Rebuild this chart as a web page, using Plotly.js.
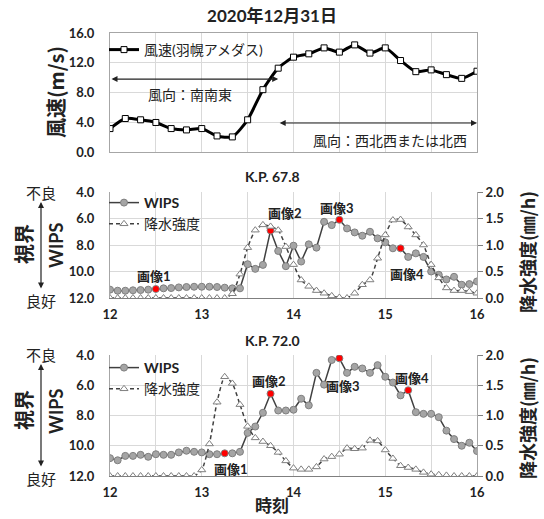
<!DOCTYPE html>
<html>
<head>
<meta charset="utf-8">
<script src="https://cdn.plot.ly/plotly-3.0.1.min.js"></script>
<style>html,body{margin:0;padding:0;background:#fff;}#chart{width:544px;height:519px;}</style>
</head>
<body>
<div id="chart"></div>
<script>
// ---------- data ----------
const chartDate = '2020-12-31';
const mainTitle = '2020年12月31日';

// wind speed, Haboro AMeDAS, 10-minute
const windTimes = ['12:00','12:10','12:20','12:30','12:40','12:50','13:00','13:10','13:20','13:30','13:40','13:50',
  '14:00','14:10','14:20','14:30','14:40','14:50','15:00','15:10','15:20','15:30','15:40','15:50','16:00'];
const windSpeed = [3.15,4.5,4.33,3.97,3.15,2.97,3.15,2.16,2.03,4.33,8.38,11.27,
  12.75,13.2,14.0,13.43,14.4,13.3,14.0,12.3,10.8,11.04,10.4,9.9,10.86];
const windName = '風速(羽幌アメダス)';
const windDirLabels = ['風向：南南東', '風向：西北西または北西'];
const windDirStart = ['12:00', '13:50'];
const windDirEnd = ['13:50', '16:00'];

// 5-minute series
const times5 = ['12:00','12:05','12:10','12:15','12:20','12:25','12:30','12:35','12:40','12:45','12:50','12:55',
  '13:00','13:05','13:10','13:15','13:20','13:25','13:30','13:35','13:40','13:45','13:50','13:55',
  '14:00','14:05','14:10','14:15','14:20','14:25','14:30','14:35','14:40','14:45','14:50','14:55',
  '15:00','15:05','15:10','15:15','15:20','15:25','15:30','15:35','15:40','15:45','15:50','15:55','16:00'];

const kp678Title = 'K.P. 67.8';
const kp678Wips = [11.37,11.45,11.45,11.42,11.4,11.37,11.32,11.27,11.25,11.2,11.17,11.15,
  11.15,11.15,11.17,11.22,11.27,11.27,9.45,9.8,9.5,6.9,8.45,9.6,
  8.05,9.25,7.95,8.2,6.25,6.5,6.1,6.75,7.05,7.3,7.0,7.5,
  7.8,8.25,8.25,8.9,8.63,8.9,10.0,10.25,10.6,10.4,11.0,10.95,10.75];
const kp678Precip = [0,0,0,0,0,0,0,0,0,0,0,0,
  0,0,0,0,0.08,0.45,0.95,1.28,1.38,1.35,1.28,0.97,
  0.63,0.34,0.22,0.14,0.09,0.04,0.01,0.0,0.09,0.25,0.34,0.75,
  1.19,1.47,1.48,1.34,1.19,1.0,0.63,0.38,0.19,0.14,0.14,0.12,0.09];
const kp678ImageTimes = ['12:30','13:45','14:30','15:10'];

const kp720Title = 'K.P. 72.0';
const kp720Wips = [10.82,10.96,10.67,10.67,10.6,10.73,10.56,10.6,10.6,10.44,10.33,10.4,
  10.44,10.56,10.56,10.5,10.5,10.4,9.15,8.73,7.82,6.56,7.67,7.67,
  7.62,6.89,7.33,5.18,5.96,4.33,4.22,5.18,4.78,4.89,5.18,4.67,
  5.44,5.82,6.67,6.33,7.78,7.89,7.89,8.11,9.0,9.56,10.0,9.8,10.35];
const kp720Precip = [0,0,0,0,0,0,0,0,0,0,0,0,
  0.1,0.53,1.22,1.64,1.53,1.18,0.82,0.63,0.57,0.5,0.39,0.25,
  0.13,0.11,0.11,0.15,0.28,0.32,0.36,0.46,0.45,0.46,0.59,0.58,
  0.43,0.29,0.17,0.14,0.11,0.06,0.03,0.02,0.01,0,0,0,0];
const kp720ImageTimes = ['13:15','13:45','14:30','15:15'];

const imageLabels = ['画像1','画像2','画像3','画像4'];
const wipsName = 'WIPS';
const precipName = '降水強度';
const xTickHours = ['12','13','14','15','16'];

// ---------- helpers ----------
const W = 544, H = 519;
const px = v => v / W;
const py = v => 1 - v / H;
const d = t => chartDate + ' ' + t;
const FONT = 'Lato, "Noto Sans CJK JP", sans-serif';
const CJK = '"Noto Sans CJK JP", sans-serif';
const GRID = '#d9d9d9', BORDER = '#a6a6a6';
const XL = px(110), XR = px(477);

const xRange = [d('12:00'), d('16:00')];
const xTickVals = xTickHours.map(h => d(h + ':00'));

function xAxis(anchor, labels) {
  return {
    domain: [XL, XR], anchor: anchor, type: 'date', range: xRange,
    tickvals: xTickVals, ticktext: xTickHours, showticklabels: labels,
    ticks: '', showgrid: true, gridcolor: GRID, gridwidth: 1,
    minor: {dtick: 1800000, tick0: d('12:00'), showgrid: true, gridcolor: GRID, gridwidth: 1, ticks: ''},
    showline: true, linecolor: labels ? '#7f7f7f' : BORDER, linewidth: 1, mirror: false,
    zeroline: false, fixedrange: true,
    tickfont: {family: FONT, size: 13, color: '#222', weight: 'bold'}, ticklabelstandoff: 4
  };
}
function yLeft(anchor, dom, range, dtick) {
  return {
    domain: dom, anchor: anchor, range: range, dtick: dtick, tickformat: '.1f',
    showgrid: true, gridcolor: GRID, zeroline: false, showline: true, linecolor: BORDER, mirror: true,
    ticks: '', ticklabelstandoff: 12, fixedrange: true,
    tickfont: {family: FONT, size: 13, color: '#222', weight: 'bold'}
  };
}
function yRight(anchor, overlay) {
  return {
    anchor: anchor, overlaying: overlay, side: 'right', range: [0, 2], dtick: 0.5, tickformat: '.1f',
    showgrid: false, zeroline: false, showline: true, linecolor: BORDER,
    ticks: 'outside', ticklen: 5, tickcolor: '#7f7f7f', fixedrange: true,
    tickfont: {family: FONT, size: 13, color: '#222', weight: 'bold'}
  };
}

const wipsLine = {color: '#404040', width: 1.5};
const wipsMarker = {symbol: 'circle', size: 7, color: '#a5a5a5', line: {color: '#7f7f7f', width: 1}};
const precipLine = {color: '#404040', width: 1.5, dash: '4px,3px', shape: 'spline', smoothing: 0.6};
const precipMarker = {symbol: 'triangle-up', size: 7, color: '#ffffff', line: {color: '#7f7f7f', width: 1}};

function panelTraces(wips, precip, imgTimes, xa, ya, yb, legend) {
  const idx = imgTimes.map(t => times5.indexOf(t));
  return [
    {x: times5.map(d), y: precip, xaxis: xa, yaxis: yb, name: precipName, mode: 'lines+markers',
     line: precipLine, marker: precipMarker, legend: legend, legendrank: 2, legendgroup: legend + 'p'},
    {x: times5.map(d), y: wips, xaxis: xa, yaxis: ya, name: '<b>' + wipsName + '</b>', mode: 'lines+markers',
     line: wipsLine, marker: wipsMarker, legend: legend, legendrank: 1, legendgroup: legend + 'w'},
    {x: idx.map(i => d(times5[i])), y: idx.map(i => wips[i]), xaxis: xa, yaxis: ya, mode: 'markers',
     marker: {symbol: 'circle', size: 6, color: '#ff0000', line: {width: 0}}, showlegend: false, hoverinfo: 'skip'}
  ];
}

const traces = [
  {x: windTimes.map(d), y: windSpeed, xaxis: 'x', yaxis: 'y', name: windName, mode: 'lines+markers',
   line: {color: '#000000', width: 3, shape: 'spline', smoothing: 0.6},
   marker: {symbol: 'square', size: 6, color: '#ffffff', line: {color: '#000000', width: 1}}, legend: 'legend'},
  ...panelTraces(kp678Wips, kp678Precip, kp678ImageTimes, 'x2', 'y2', 'y3', 'legend2'),
  ...panelTraces(kp720Wips, kp720Precip, kp720ImageTimes, 'x3', 'y4', 'y5', 'legend3')
];

// ---------- annotations ----------
const ann = [];
function txt(x, y, text, size, opts) {
  ann.push(Object.assign({xref: 'paper', yref: 'paper', x: x, y: y, text: text, showarrow: false,
    font: {family: FONT, size: size, color: '#222'}, xanchor: 'center', yanchor: 'middle'}, opts || {}));
}
txt(0.5, py(176), '<b>' + kp678Title + '</b>', 14);
txt(0.5, py(340), '<b>' + kp720Title + '</b>', 14);
txt(px(55), py(92), '<b>風速(m/s)</b>', 20, {textangle: -90, font: {family: CJK, size: 20, color: '#222'}});
txt(px(272), py(518), '<b>時刻</b>', 17, {yanchor: 'bottom', borderpad: 0, font: {family: CJK, size: 17, color: '#222'}});

// wind direction arrows + texts
const windDirTextPos = [[d('12:52'), 7.8], [d('15:03'), 1.6]];
const windDirLevel = [9.8, 3.9];
windDirLabels.forEach((lab, i) => {
  ann.push({xref: 'x', yref: 'y', axref: 'x', ayref: 'y', x: d(windDirEnd[i]), y: windDirLevel[i],
    ax: d(windDirStart[i]), ay: windDirLevel[i], text: '', showarrow: true, arrowside: 'end+start',
    arrowhead: 2, arrowsize: 1, arrowwidth: 1.2, arrowcolor: '#222'});
  ann.push({xref: 'x', yref: 'y', x: windDirTextPos[i][0], y: windDirTextPos[i][1], text: lab, showarrow: false,
    font: {family: CJK, size: 14, color: '#222'}});
});

// visibility axis labels for both panels
[[192, 300, 248], [354, 478, 414]].forEach(p => {
  txt(px(41), py(p[0]), '不良', 15, {font: {family: CJK, size: 15, color: '#222'}});
  txt(px(41), py(p[1]), '良好', 15, {font: {family: CJK, size: 15, color: '#222'}});
  ann.push({xref: 'paper', yref: 'paper', x: px(41), y: py(p[0] + 10), ax: 0, ay: (p[1] - p[0]) - 20,
    text: '', showarrow: true, arrowside: 'end+start', arrowhead: 2, arrowsize: 1, arrowwidth: 1.2, arrowcolor: '#222'});
  txt(px(23), py(p[2] - 4), '<b>視界</b>', 20, {textangle: -90, font: {family: CJK, size: 20, color: '#222'}});
  txt(px(56), py(p[2] - 2), '<b>WIPS</b>', 18, {textangle: -90});
  txt(px(527), py(p[2] + 4), '<b>降水強度(㎜/h)</b>', 18, {textangle: -90, font: {family: CJK, size: 18, color: '#222'}});
});

// image labels
function imgAnn(times, wips, xa, ya, offs) {
  times.forEach((t, i) => {
    const k = times5.indexOf(t);
    ann.push({xref: xa, yref: ya, x: d(t), y: wips[k], text: imageLabels[i], showarrow: true,
      arrowcolor: 'rgba(0,0,0,0)', ax: offs[i][0], ay: offs[i][1],
      font: {family: FONT, size: 13, color: '#222', weight: 'bold'}});
  });
}
imgAnn(kp678ImageTimes, kp678Wips, 'x2', 'y2', [[-2, -13], [14, -17], [-2, -12], [6, 26]]);
imgAnn(kp720ImageTimes, kp720Wips, 'x3', 'y4', [[6, 16], [-2, -13], [4, 28], [4, -12]]);

const legendBase = {bgcolor: 'rgba(0,0,0,0)', xanchor: 'left', yanchor: 'top', itemwidth: 30,
  font: {family: FONT, size: 14, color: '#222'}, traceorder: 'normal'};

const layout = {
  width: W, height: H, margin: {l: 0, r: 0, t: 0, b: 0},
  paper_bgcolor: '#ffffff', plot_bgcolor: '#ffffff',
  title: {text: '<b>' + mainTitle + '</b>', x: 0.5, xanchor: 'center', y: py(16), yanchor: 'middle',
    font: {family: FONT, size: 17, color: '#222'}},
  xaxis: xAxis('y', false),
  yaxis: yLeft('x', [py(152), py(33)], [0, 16], 4),
  xaxis2: xAxis('y2', true),
  yaxis2: yLeft('x2', [py(298), py(192)], [12, 4], 2),
  yaxis3: yRight('x2', 'y2'),
  xaxis3: xAxis('y4', true),
  yaxis4: yLeft('x3', [py(476), py(355)], [12, 4], 2),
  yaxis5: yRight('x3', 'y4'),
  legend: Object.assign({}, legendBase, {x: px(104), y: py(34)}),
  legend2: Object.assign({}, legendBase, {x: px(104), y: py(187), tracegroupgap: 0}),
  legend3: Object.assign({}, legendBase, {x: px(104), y: py(352), tracegroupgap: 8}),
  showlegend: true,
  annotations: ann
};
layout.xaxis.mirror = true;

Plotly.newPlot('chart', traces, layout, {staticPlot: true, displayModeBar: false});
</script>
</body>
</html>
